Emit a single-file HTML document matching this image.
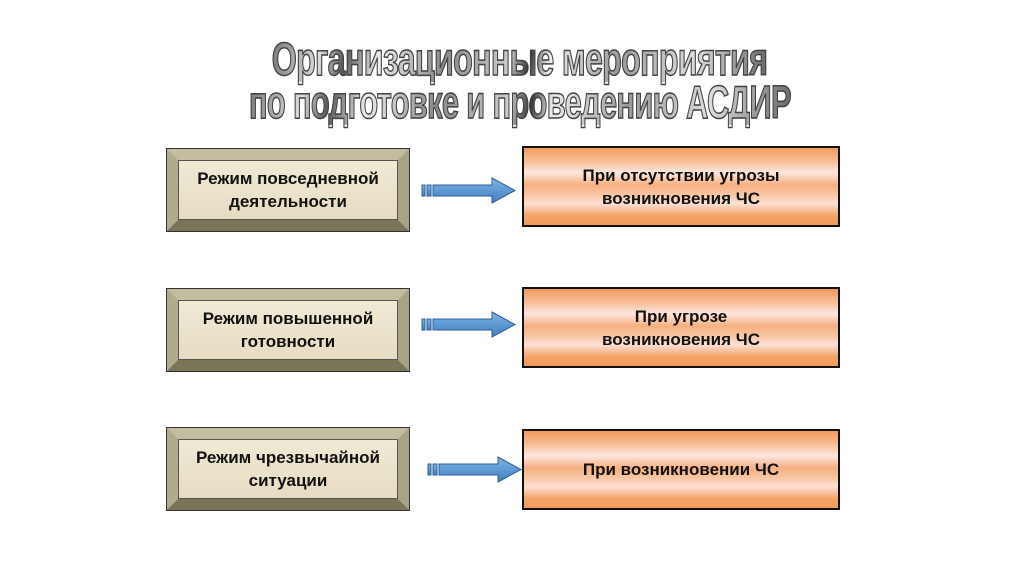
<!DOCTYPE html>
<html><head><meta charset="utf-8"><style>
body{margin:0;width:1024px;height:576px;background:#fff;position:relative;overflow:hidden;font-family:"Liberation Sans",sans-serif}
.t{position:absolute;left:0;width:1024px;text-align:center;font-family:"Liberation Sans",sans-serif;font-weight:bold;font-size:46px;line-height:46px;color:#999;-webkit-text-stroke:1.5px #444;letter-spacing:-1px;white-space:nowrap}
.t span{display:inline-block;background:linear-gradient(100deg,#777 0%,#ddd 10%,#555 15%,#eee 22%,#888 35%,#ccc 48%,#333 52%,#eee 56%,#999 70%,#ddd 85%,#666 100%);-webkit-background-clip:text;background-clip:text;color:transparent}
.b{position:absolute;left:166px;width:244px;height:84px;box-sizing:border-box;background:#e8dfc6;border:1px solid #333}
.b::before{content:"";position:absolute;inset:0;border-style:solid;border-width:11px;border-color:#c4bc9e #a8a286 #7a7458 #b0aa8e}
.b div{position:absolute;inset:11px;border:1px solid #555;background:linear-gradient(#f0e9d4,#e6dcc2);display:flex;align-items:center;justify-content:center;text-align:center;font-weight:bold;font-size:17px;line-height:23px;color:#111}
.o{position:absolute;left:522px;width:318px;height:81px;box-sizing:border-box;border:2px solid #111;background:linear-gradient(#f29a5a 0%,#f8c09a 18%,#fde6e0 32%,#f6b080 48%,#f8c8a8 62%,#fce0d6 72%,#f4a468 88%,#f29a5a 100%);display:flex;align-items:center;justify-content:center;text-align:center;font-weight:bold;font-size:17px;line-height:23px;color:#111}
svg{position:absolute}
</style></head><body>
<div class="t" style="top:36px;transform:scaleX(0.70);transform-origin:537px 0"><span>Организационные мероприятия</span></div>
<div class="t" style="top:79px;transform:scaleX(0.67);transform-origin:536px 0"><span>по подготовке и проведению АСДИР</span></div>

<div class="b" style="top:148px"><div>Режим повседневной<br>деятельности</div></div>
<div class="b" style="top:288px"><div>Режим повышенной<br>готовности</div></div>
<div class="b" style="top:427px"><div>Режим чрезвычайной<br>ситуации</div></div>

<div class="o" style="top:146px">При отсутствии угрозы<br>возникновения ЧС</div>
<div class="o" style="top:287px">При угрозе<br>возникновения ЧС</div>
<div class="o" style="top:429px">При возникновении ЧС</div>

<svg width="1024" height="576" style="left:0;top:0">
<defs><linearGradient id="g" x1="0" y1="0" x2="0" y2="1"><stop offset="0" stop-color="#7fb4e6"/><stop offset="1" stop-color="#3f7fc4"/></linearGradient></defs>
<g id="a" stroke="#2f5f95" stroke-width="1" fill="url(#g)">
<rect x="422" y="185" width="3" height="11"/><rect x="427" y="185" width="4" height="11"/>
<polygon points="433,185 492,185 492,178 515,190.5 492,203 492,196 433,196"/>
</g>
<use href="#a" y="134"/>
<use href="#a" x="6" y="279"/>
</svg>
</body></html>
